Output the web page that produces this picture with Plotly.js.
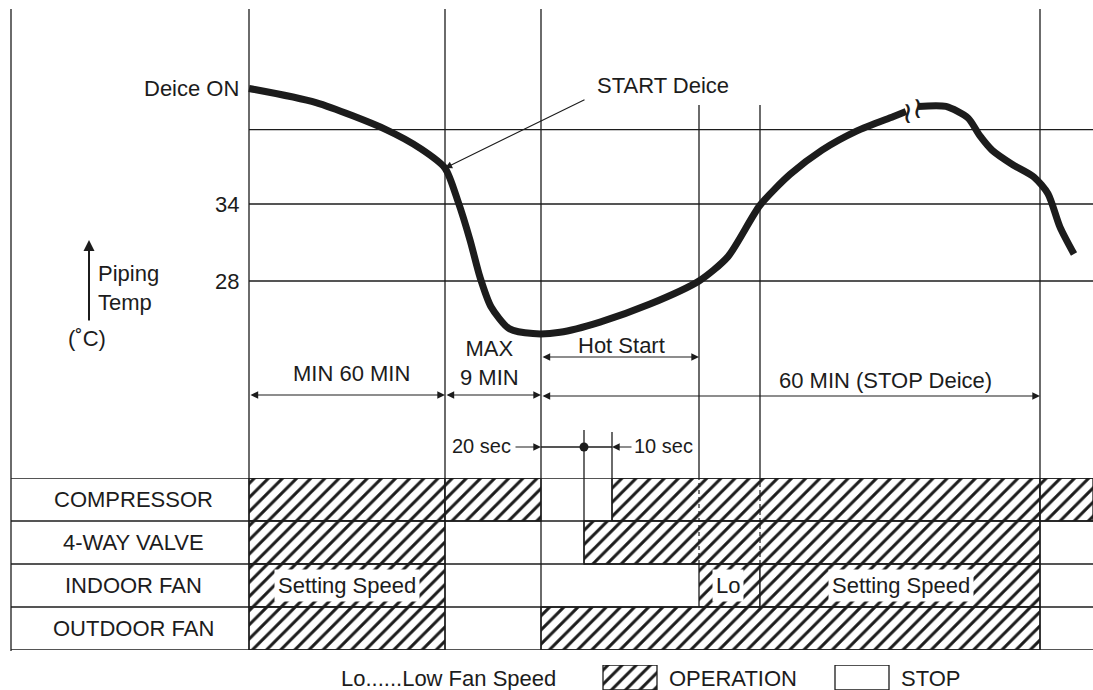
<!DOCTYPE html>
<html><head><meta charset="utf-8">
<script src="https://cdn.plot.ly/plotly-3.0.1.min.js"></script>
<style>html,body{margin:0;padding:0;background:#fff}</style>
</head><body><div id="chart" style="width:1093px;height:690px"></div>
<script>
// ---------- DATA ----------
// schematic timeline (arbitrary units along the diagram)
const eventNames = ['Deice ON', 'START Deice', 'MAX 9 MIN end', '4-way valve ON', 'Compressor ON', 'Hot Start end', 'Setting Speed', 'STOP Deice', 'end'];
const eventT     = [249, 445, 541, 584, 612, 699, 760, 1040, 1093];

// temperature axis labels (°C)
const tempTickVals = [43, 34, 28];
const tempTickText = ['Deice ON', '34', '28'];
const gridTemps    = [39.8, 34, 28];

// piping temperature curve (two parts, broken by the "≀" symbol)
const curveT1    = [249, 316, 386, 421, 445, 458, 470, 480, 491, 509, 533, 560, 600, 650, 699, 728, 760, 790, 822, 857, 893, 906];
const curveTemp1 = [43.0, 41.9, 39.8, 38.3, 36.8, 34.2, 31.2, 28.3, 26.0, 24.3, 23.9, 24.0, 24.8, 26.2, 28.0, 29.9, 33.9, 36.3, 38.2, 39.7, 40.8, 41.2];
const curveT2    = [918, 946, 968, 980, 992, 1012, 1034, 1048, 1060, 1074];
const curveTemp2 = [41.6, 41.6, 40.7, 39.3, 38.2, 37.1, 36.1, 34.8, 32.2, 30.1];

// table rows and OPERATION segments
const rows     = ['COMPRESSOR', '4-WAY VALVE', 'INDOOR FAN', 'OUTDOOR FAN'];
const segRow   = ['COMPRESSOR', 'COMPRESSOR', 'COMPRESSOR', 'COMPRESSOR', '4-WAY VALVE', '4-WAY VALVE', 'INDOOR FAN', 'INDOOR FAN', 'INDOOR FAN', 'OUTDOOR FAN', 'OUTDOOR FAN'];
const segStart = [249, 445, 612, 1040, 249, 584, 249, 699, 760, 249, 541];
const segEnd   = [445, 541, 1040, 1093, 445, 1040, 445, 760, 1040, 445, 1040];
const segText  = ['', '', '', '', '', '', 'Setting Speed', 'Lo', 'Setting Speed', '', ''];

// interval dimensions
const spanLabels = ['MIN 60 MIN', 'MAX<br>9 MIN', 'Hot Start', '60 MIN (STOP Deice)'];
const spanFrom   = [249, 445, 541, 541];
const spanTo     = [445, 541, 699, 1040];

// ---------- LAYOUT HELPERS ----------
const W = 1093, H = 690;
const py = p => 1 - p / H;              // pixel row -> paper y
const INK = '#1c1c1c';
const FONT = 'Liberation Sans, Arial, sans-serif';
const f = (s) => ({family: FONT, size: s || 22, color: INK});

const traces = [];
// curve
const curveLine = {color: INK, width: 7, shape: 'spline', smoothing: 0.7};
traces.push({x: curveT1, y: curveTemp1, type: 'scatter', mode: 'lines', line: curveLine, hoverinfo: 'skip', showlegend: false});
traces.push({x: curveT2, y: curveTemp2, type: 'scatter', mode: 'lines', line: curveLine, hoverinfo: 'skip', showlegend: false});

// hatched operation bars
const hatch = {shape: '/', size: 10, solidity: 0.3, fgcolor: INK, bgcolor: '#ffffff', fillmode: 'replace'};
traces.push({
  type: 'bar', orientation: 'h', yaxis: 'y2',
  y: segRow, base: segStart, x: segStart.map((s, i) => segEnd[i] - s),
  width: segRow.map(() => 1),
  marker: {color: '#ffffff', pattern: hatch, line: {color: INK, width: 1.3}},
  hoverinfo: 'skip', showlegend: false
});

// legend swatches (OPERATION hatched, STOP blank)
traces.push({
  type: 'bar', orientation: 'h', yaxis: 'y3',
  y: [0.5], base: [603], x: [54], width: [1],
  marker: {color: '#ffffff', pattern: hatch, line: {color: INK, width: 1.3}},
  hoverinfo: 'skip', showlegend: false
});
traces.push({
  type: 'bar', orientation: 'h', yaxis: 'y3',
  y: [0.5], base: [835], x: [54], width: [1],
  marker: {color: '#ffffff', line: {color: INK, width: 1.3}},
  hoverinfo: 'skip', showlegend: false
});

// 20 sec / 10 sec dot (on 4-way valve event)
const T_AT = p => 49.896 - p / 12.8333;  // pixel row -> temperature axis value
traces.push({x: [eventT[3]], y: [T_AT(447)], type: 'scatter', mode: 'markers', marker: {color: INK, size: 9}, hoverinfo: 'skip', showlegend: false});

const shapes = [];
const ln = (o) => Object.assign({type: 'line', line: {color: INK, width: 1.3}, layer: 'above'}, o);
// left border
shapes.push(ln({xref: 'paper', yref: 'paper', x0: 11 / W, x1: 11 / W, y0: py(9), y1: py(651)}));
// full-height event lines
[0, 1, 2, 7].forEach(i => shapes.push(ln({xref: 'x', yref: 'paper', x0: eventT[i], x1: eventT[i], y0: py(9), y1: py(650)})));
// upper event lines (Hot Start end, Setting Speed)
[5, 6].forEach(i => shapes.push(ln({xref: 'x', yref: 'paper', x0: eventT[i], x1: eventT[i], y0: py(105), y1: py(478)})));
// dashed continuation inside compressor / 4-way rows
[5, 6].forEach(i => shapes.push(ln({xref: 'x', yref: 'y2', x0: eventT[i], x1: eventT[i], y0: 1.5, y1: 3.5, line: {color: INK, width: 1.2, dash: '4px,3px'}})));
// short event ticks for 4-way valve and compressor
shapes.push(ln({xref: 'x', yref: 'paper', x0: eventT[3], x1: eventT[3], y0: py(430), y1: py(563)}));
shapes.push(ln({xref: 'x', yref: 'paper', x0: eventT[4], x1: eventT[4], y0: py(432), y1: py(520)}));
// line joining 20 sec and 10 sec
shapes.push(ln({xref: 'x', yref: 'paper', x0: eventT[2], x1: eventT[4], y0: py(447), y1: py(447)}));
// temperature grid lines
gridTemps.forEach(t => shapes.push(ln({xref: 'x', yref: 'y', x0: eventT[0], x1: eventT[8], y0: t, y1: t, layer: 'below'})));
// table row lines
[-0.5, 0.5, 1.5, 2.5, 3.5].forEach(v => shapes.push(ln({xref: 'paper', yref: 'y2', x0: 11 / W, x1: 1, y0: v, y1: v})));

const ann = [];
// temperature labels
tempTickVals.forEach((v, i) => ann.push({x: 241, y: v, xref: 'x', yref: 'y', text: tempTickText[i], showarrow: false, xanchor: 'right', yanchor: 'middle', font: f()}));
// Piping temp label + arrow
ann.push({x: 89, y: py(240), xref: 'x', yref: 'paper', ax: 0, ay: 82, axref: 'pixel', ayref: 'pixel', text: '', showarrow: true, arrowhead: 2, arrowsize: 1.1, arrowwidth: 2, arrowcolor: INK});
ann.push({x: 96, y: py(288), xref: 'x', yref: 'paper', text: 'Piping<br>Temp', align: 'left', showarrow: false, xanchor: 'left', yanchor: 'middle', font: f()});
ann.push({x: 87, y: py(338), xref: 'x', yref: 'paper', text: '(˚C)', showarrow: false, xanchor: 'center', yanchor: 'middle', font: f()});
// START Deice
ann.push({x: 663, y: py(85), xref: 'x', yref: 'paper', text: 'START Deice', showarrow: false, xanchor: 'center', yanchor: 'middle', font: f()});
ann.push({x: eventT[1], y: 36.8, xref: 'x', yref: 'y', ax: 586, ay: T_AT(99), axref: 'x', ayref: 'y', text: '', showarrow: true, arrowhead: 2, arrowsize: 1.3, arrowwidth: 1.1, arrowcolor: INK, standoff: 0});
// dimension arrows
const arrowY = [395, 395, 357, 396];
const labelX = [351, 489, 621, 885];
const labelY = [373, 363, 345, 380];
spanLabels.forEach((s, i) => {
  ann.push({x: spanTo[i], y: py(arrowY[i]), xref: 'x', yref: 'paper', ax: spanFrom[i], ay: 0, axref: 'x', ayref: 'pixel', text: '', showarrow: true, arrowside: 'end+start', arrowhead: 2, arrowsize: 1.4, arrowwidth: 1.1, arrowcolor: INK, standoff: 0, startstandoff: 0});
  ann.push({x: labelX[i], y: py(labelY[i]), xref: 'x', yref: 'paper', text: s, showarrow: false, xanchor: 'center', yanchor: 'middle', font: f()});
});
// 20 sec / 10 sec
ann.push({x: eventT[2], y: py(447), xref: 'x', yref: 'paper', ax: 514, ay: 0, axref: 'x', ayref: 'pixel', text: '', showarrow: true, arrowhead: 2, arrowsize: 1.4, arrowwidth: 1.1, arrowcolor: INK, standoff: 0});
ann.push({x: 513, y: py(446), xref: 'x', yref: 'paper', text: '20 sec', showarrow: false, xanchor: 'right', yanchor: 'middle', font: f(20)});
ann.push({x: eventT[4], y: py(447), xref: 'x', yref: 'paper', ax: 633, ay: 0, axref: 'x', ayref: 'pixel', text: '', showarrow: true, arrowhead: 2, arrowsize: 1.4, arrowwidth: 1.1, arrowcolor: INK, standoff: 0});
ann.push({x: 632, y: py(446), xref: 'x', yref: 'paper', text: '10 sec', showarrow: false, xanchor: 'left', yanchor: 'middle', font: f(20)});
// break symbol on curve
ann.push({x: 907, y: 41.1, xref: 'x', yref: 'y', text: '≀', showarrow: false, font: {family: 'DejaVu Sans', size: 30, color: INK}});
ann.push({x: 917, y: 41.5, xref: 'x', yref: 'y', text: '≀', showarrow: false, font: {family: 'DejaVu Sans', size: 30, color: INK}});
// row labels
rows.forEach(r => ann.push({x: 133, y: r, xref: 'x', yref: 'y2', text: r, showarrow: false, xanchor: 'center', yanchor: 'middle', font: f()}));
// texts inside bars
segText.forEach((t, i) => {
  if (!t) return;
  const cx = t === 'Lo' ? (segStart[i] + segEnd[i]) / 2 - 2 : (t === 'Setting Speed' && segStart[i] > 700 ? 901 : (segStart[i] + segEnd[i]) / 2);
  ann.push({x: cx, y: segRow[i], xref: 'x', yref: 'y2', text: t, showarrow: false, xanchor: 'center', yanchor: 'middle', bgcolor: '#ffffff', borderpad: 3, font: f()});
});
// legend texts
ann.push({x: 339, y: py(678), xref: 'x', yref: 'paper', text: 'Lo......Low Fan Speed', showarrow: false, xanchor: 'left', yanchor: 'middle', font: f()});
ann.push({x: 667, y: py(678), xref: 'x', yref: 'paper', text: 'OPERATION', showarrow: false, xanchor: 'left', yanchor: 'middle', font: f()});
ann.push({x: 899, y: py(678), xref: 'x', yref: 'paper', text: 'STOP', showarrow: false, xanchor: 'left', yanchor: 'middle', font: f()});

const layout = {
  width: W, height: H, margin: {l: 0, r: 0, t: 0, b: 0},
  paper_bgcolor: '#ffffff', plot_bgcolor: '#ffffff',
  showlegend: false, barmode: 'overlay', dragmode: false,
  xaxis: {range: [0, W], visible: false, fixedrange: true},
  yaxis: {range: [T_AT(H), T_AT(0)], visible: false, fixedrange: true, domain: [0, 1]},
  yaxis2: {type: 'category', categoryorder: 'array', categoryarray: rows.slice().reverse(), range: [-0.5, 3.5], domain: [40 / H, 212 / H], anchor: 'x', visible: false, fixedrange: true},
  yaxis3: {range: [0, 1], domain: [0, 25 / H], anchor: 'x', visible: false, fixedrange: true},
  shapes: shapes, annotations: ann
};
Plotly.newPlot('chart', traces, layout, {staticPlot: true, displayModeBar: false});
</script></body></html>
